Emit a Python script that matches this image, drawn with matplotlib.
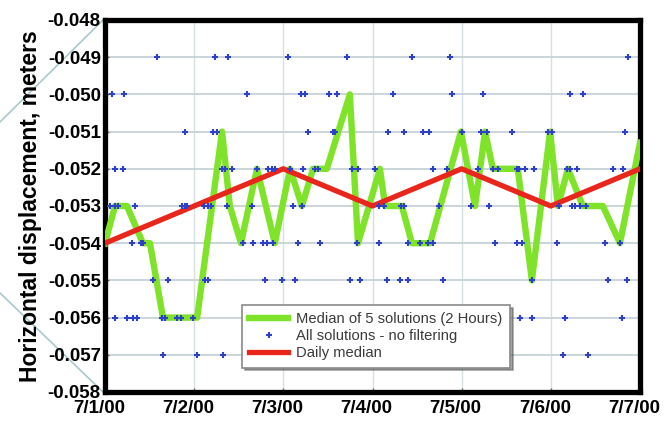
import matplotlib
matplotlib.use("Agg")
import matplotlib.pyplot as plt
import matplotlib.transforms as mtransforms
from matplotlib.lines import Line2D
import numpy as np

plt.rcParams["font.family"] = ["Liberation Sans", "DejaVu Sans"]
plt.rcParams["axes.unicode_minus"] = False

# time axis: hours after 7/1/00 00:00
day_ticks = [0, 24, 48, 72, 96, 120, 144]
day_labels = ["7/1/00", "7/2/00", "7/3/00", "7/4/00", "7/5/00", "7/6/00", "7/7/00"]

# median of 5 solutions (2 hours), values in mm
median_hours = [0, 2.7, 5.9, 10.2, 12.1, 15.6, 24.8, 31.5, 33.6, 36.6, 40.9, 45.7,
                49.8, 53.0, 56.0, 59.7, 65.9, 68.1, 74.0, 75.4, 79.9, 82.6, 87.5,
                95.8, 99.6, 102.3, 104.4, 111.1, 114.9, 119.8, 121.9, 124.6, 128.6,
                134.0, 138.6, 144.0]
median_mm = [-54, -53, -53, -54, -54, -56, -56, -51, -53, -54, -52, -54,
             -52, -53, -52, -52, -50, -54, -52, -53, -53, -54, -54,
             -51, -53, -51, -52, -52, -55, -51, -53, -52, -53,
             -53, -54, -51.3]

# daily median, mm
daily_hours = [0, 24, 48, 72, 96, 120, 144]
daily_mm = [-54, -53, -52, -53, -52, -53, -52]

# all solutions (no filtering): hours of each solution, one list per mm level
sol_049 = [14.0, 29.6, 33.1, 49.3, 65.1, 82.6, 92.9, 140.8]
sol_050 = [1.9, 5.1, 38.2, 52.8, 53.8, 60.3, 62.5, 77.5, 93.4, 101.7, 125.1, 128.6]
sol_051 = [21.5, 29.1, 30.1, 54.6, 61.4, 61.9, 76.2, 80.5, 85.6, 87.2, 96.1, 101.2,
           102.8, 109.5, 119.2, 120.3, 139.9]
sol_052 = [2.7, 4.8, 31.5, 32.3, 34.2, 40.9, 43.9, 44.9, 45.8, 49.8, 53.3, 56.5,
           57.3, 66.4, 68.1, 72.7, 88.3, 92.0, 100.4, 104.4, 105.8, 110.9, 111.4,
           113.0, 115.5, 124.3, 125.1, 127.0, 136.7, 139.4]
sol_053 = [1.3, 2.7, 3.5, 8.1, 20.7, 21.5, 22.1, 26.6, 27.7, 28.5, 32.8, 39.6,
           50.6, 53.0, 73.7, 75.1, 79.7, 80.5, 89.9, 98.5, 103.4, 122.2, 125.7,
           126.5, 127.8, 129.5]
sol_054 = [7.3, 9.7, 10.2, 37.1, 39.8, 42.5, 43.6, 45.2, 51.9, 57.9, 67.8, 73.7,
           81.6, 84.8, 86.9, 88.3, 104.9, 110.9, 112.2, 121.7, 134.6, 138.6]
sol_055 = [12.9, 17.0, 26.9, 27.7, 43.1, 47.6, 51.1, 65.9, 68.6, 75.9, 79.4, 81.6,
           91.0, 114.9, 135.4, 140.5]
sol_056 = [2.7, 5.9, 7.5, 8.6, 15.3, 16.1, 19.4, 20.5, 23.7, 111.7, 114.9, 123.8, 139.2]
sol_057 = [15.6, 24.8, 31.8, 123.3, 130.0]

levels_mm = [-49, -50, -51, -52, -53, -54, -55, -56, -57]
sol_rows = [sol_049, sol_050, sol_051, sol_052, sol_053, sol_054, sol_055, sol_056, sol_057]

sol_hours = np.concatenate([np.array(r) for r in sol_rows])
sol_mm = np.concatenate([np.full(len(r), lv) for r, lv in zip(sol_rows, levels_mm)])

fig = plt.figure(figsize=(6.65, 4.26), dpi=100)
ax = fig.add_axes([105 / 665, 1 - 392 / 426, 535 / 665, 372 / 426])

ax.plot(median_hours, np.array(median_mm) / 1000, color="#7fe32a", lw=4.6,
        solid_joinstyle="round", zorder=3, label="Median of 5 solutions (2 Hours)")
ax.plot(sol_hours, sol_mm / 1000, ls="none", marker="+", ms=4, mew=1.5,
        color="#2c40c8", zorder=5, label="All solutions - no filtering")
ax.plot(daily_hours, np.array(daily_mm) / 1000, color="#e8261c", lw=3.8,
        solid_joinstyle="round", zorder=4, label="Daily median")

ax.set_xlim(0, 144)
ax.set_ylim(-0.058, -0.048)
ax.set_xticks(day_ticks)
ax.set_xticklabels(day_labels)
ax.set_yticks(np.arange(-58, -47) / 1000)
ax.set_yticklabels([f"{v / 1000:.3f}" for v in range(-58, -47)])

ax.grid(axis="y", color="#c9d5d8", lw=1.4, zorder=1)
ax.grid(axis="x", color="#d4e0e2", lw=1.0, zorder=1)
ax.set_axisbelow(True)

for s in ax.spines.values():
    s.set_linewidth(3.8)
    s.set_color("black")

ax.tick_params(axis="both", direction="in", length=3, width=1, color="#666666")
ax.tick_params(axis="y", pad=3, labelsize=13.5)
ax.tick_params(axis="x", pad=6, labelsize=13.5)
for lab in ax.get_xticklabels() + ax.get_yticklabels():
    lab.set_fontweight("bold")

# date labels sit a little left of their ticks
shift = mtransforms.ScaledTranslation(-6 / 100, 0, fig.dpi_scale_trans)
for lab in ax.get_xticklabels():
    lab.set_transform(lab.get_transform() + shift)

ax.set_ylabel("Horizontal displacement, meters", fontsize=16.5, fontweight="bold",
              labelpad=4)

leg = ax.legend(loc="upper left", bbox_to_anchor=(242 / 665, 1 - 305 / 426),
                bbox_transform=fig.transFigure, borderaxespad=0, fontsize=10.6,
                handlelength=2.6, handletextpad=0.6, labelspacing=0.2,
                borderpad=0.5, fancybox=False, framealpha=1, shadow=True)
leg.get_frame().set_edgecolor("#8a8a8a")
leg.get_frame().set_linewidth(1.2)
for t in leg.get_texts():
    t.set_color("#3a3a3a")

# faint diagonal strokes in the left margin meeting the frame corners
fig.add_artist(Line2D([0, 103 / 665], [1 - 122 / 426, 1 - 20 / 426],
                      transform=fig.transFigure, color="#a9c9cc", lw=1.2, zorder=0))
fig.add_artist(Line2D([0, 103 / 665], [1 - 293 / 426, 1 - 392 / 426],
                      transform=fig.transFigure, color="#a9c9cc", lw=1.2, zorder=0))

fig.savefig("out.png", dpi=100)
